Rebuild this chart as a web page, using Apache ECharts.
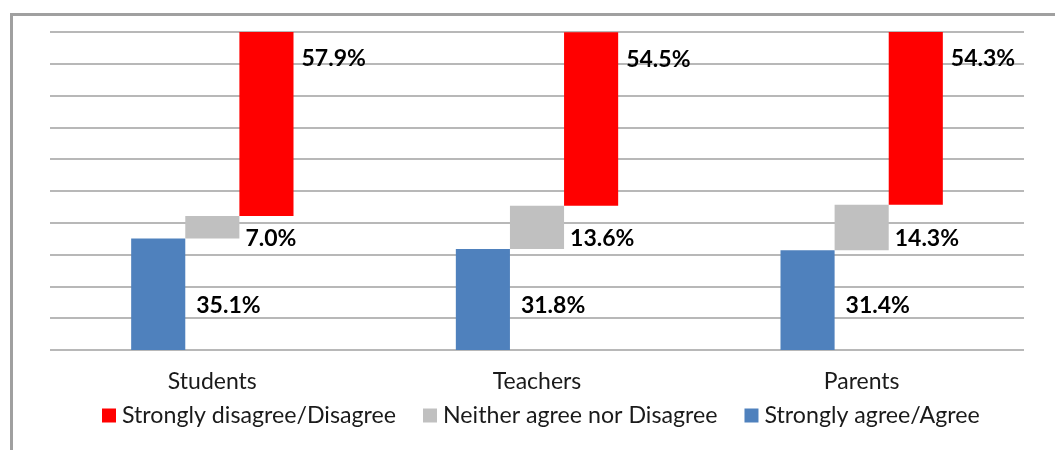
<!DOCTYPE html>
<html>
<head>
<meta charset="utf-8">
<script src="https://cdn.jsdelivr.net/npm/echarts@6/dist/echarts.min.js"></script>
<style>
html,body{margin:0;padding:0;background:#fff;}
#chart{width:1055px;height:450px;}
</style>
</head>
<body>
<div id="chart"></div>
<script>
var categories = ['Students', 'Teachers', 'Parents'];
var agree = [35.1, 31.8, 31.4];
var neither = [7.0, 13.6, 14.3];
var disagree = [57.9, 54.5, 54.3];
var seriesNames = ['Strongly disagree/Disagree', 'Neither agree nor Disagree', 'Strongly agree/Agree'];

var neitherBase = agree.slice();
var disagreeBase = agree.map(function (v, i) { return v + neither[i]; });

var FONT = 'Lato, "Open Sans", "Noto Sans", sans-serif';
function fmt(p) { return p.value.toFixed(1) + '%'; }
var labelBase = { show: true, formatter: fmt, color: '#000', fontFamily: FONT, fontWeight: 'bold', fontSize: 23, align: 'left', verticalAlign: 'middle' };

var chart = echarts.init(document.getElementById('chart'));
chart.setOption({
  backgroundColor: '#fff',
  animation: false,
  graphic: [{
    type: 'rect', left: 9, top: 12, shape: { width: 1100, height: 500 },
    style: { fill: 'none', stroke: '#a0a0a0', lineWidth: 3 }, silent: true
  }],
  grid: { left: 50, right: 31, top: 32, bottom: 100 },
  legend: {
    data: seriesNames,
    left: 97, top: 399,
    itemWidth: 14, itemHeight: 14, itemGap: 27,
    icon: 'rect',
    textStyle: { fontFamily: FONT, fontSize: 23.2, color: '#1a1a1a', padding: [0, 0, 0, 1] }
  },
  xAxis: {
    type: 'category', data: categories,
    axisLine: { show: false }, axisTick: { show: false },
    axisLabel: { fontFamily: FONT, fontSize: 23, color: '#1a1a1a', margin: 20 }
  },
  yAxis: {
    type: 'value', min: 0, max: 100, interval: 10,
    axisLabel: { show: false }, axisLine: { show: false }, axisTick: { show: false },
    splitLine: { lineStyle: { color: '#a0a0a0', width: 1.5 } }
  },
  series: [
    {
      name: seriesNames[2], type: 'bar', stack: 'a', data: agree,
      barGap: '0%', barCategoryGap: '50%',
      itemStyle: { color: '#4f81bd' },
      label: Object.assign({}, labelBase, { position: ['100%', '100%'], offset: [11, -44] })
    },
    {
      name: 'base2', type: 'bar', stack: 'b', data: neitherBase,
      itemStyle: { color: 'transparent' }, label: { show: false }, silent: true
    },
    {
      name: seriesNames[1], type: 'bar', stack: 'b', data: neither,
      itemStyle: { color: '#c0c0c0' },
      label: Object.assign({}, labelBase, { position: 'right', distance: 6, offset: [0, 11] })
    },
    {
      name: 'base3', type: 'bar', stack: 'c', data: disagreeBase,
      itemStyle: { color: 'transparent' }, label: { show: false }, silent: true
    },
    {
      name: seriesNames[0], type: 'bar', stack: 'c', data: disagree,
      itemStyle: { color: '#ff0000' },
      label: Object.assign({}, labelBase, { position: ['100%', 0], offset: [8, 27] })
    }
  ]
});
</script>
</body>
</html>
